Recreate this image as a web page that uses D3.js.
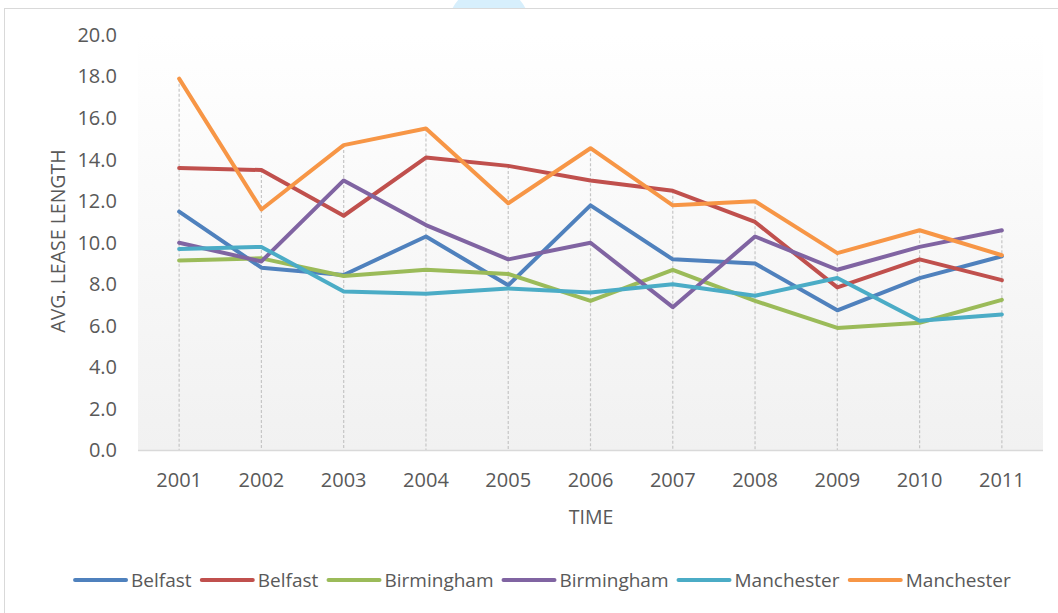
<!DOCTYPE html>
<html>
<head>
<meta charset="utf-8">
<script src="https://cdn.jsdelivr.net/npm/d3@7/dist/d3.min.js"></script>
<style>
  html, body { margin: 0; padding: 0; background: #ffffff; }
  svg { display: block; }
  text { font-family: "Open Sans", "Liberation Sans", sans-serif; fill: #595959; }
</style>
</head>
<body>
<svg id="chart" width="1058" height="613"></svg>
<script>
// ---- Data ----
const years = ["2001","2002","2003","2004","2005","2006","2007","2008","2009","2010","2011"];
const seriesNames = ["Belfast","Belfast","Birmingham","Birmingham","Manchester","Manchester"];
const seriesColors = ["#4F81BD","#C0504D","#9BBB59","#8064A2","#4BACC6","#F79646"];
const belfastA    = [11.5, 8.8, 8.45, 10.3, 7.95, 11.8, 9.2, 9.0, 6.75, 8.3, 9.35];
const belfastB    = [13.6, 13.5, 11.3, 14.1, 13.7, 13.0, 12.5, 11.0, 7.85, 9.2, 8.2];
const birminghamA = [9.15, 9.25, 8.4, 8.7, 8.5, 7.2, 8.7, 7.2, 5.9, 6.15, 7.25];
const birminghamB = [10.0, 9.1, 13.0, 10.85, 9.2, 10.0, 6.9, 10.3, 8.7, 9.8, 10.6];
const manchesterA = [9.7, 9.8, 7.65, 7.55, 7.8, 7.6, 8.0, 7.45, 8.3, 6.25, 6.55];
const manchesterB = [17.9, 11.6, 14.7, 15.5, 11.9, 14.55, 11.8, 12.0, 9.5, 10.6, 9.4];
const yTicks = [0, 2, 4, 6, 8, 10, 12, 14, 16, 18, 20];
const yTitle = "AVG. LEASE LENGTH";
const xTitle = "TIME";

const seriesValues = [belfastA, belfastB, birminghamA, birminghamB, manchesterA, manchesterB];
const series = seriesValues.map((vals, i) => ({
  name: seriesNames[i], color: seriesColors[i],
  points: vals.map((v, j) => ({ year: years[j], value: v }))
}));

// ---- Layout ----
const svg = d3.select("#chart");
const plot = { left: 138, right: 1043, top: 35, bottom: 450.5 };

// watermark fragment at top
const defs = svg.append("defs");
defs.append("clipPath").attr("id", "topclip")
  .append("rect").attr("x", 0).attr("y", 0).attr("width", 1058).attr("height", 8);
const wm = svg.append("g").attr("clip-path", "url(#topclip)");
wm.append("circle").attr("cx", 489).attr("cy", 27).attr("r", 41).attr("fill", "#d7effc");
wm.append("circle").attr("cx", 497).attr("cy", 21).attr("r", 13).attr("fill", "#eef8fe");

// outer chart frame
svg.append("rect").attr("x", 4.5).attr("y", 8.5).attr("width", 1100).attr("height", 700)
  .attr("fill", "#ffffff").attr("stroke", "#d9d9d9").attr("stroke-width", 1);

// plot area gradient
const grad = defs.append("linearGradient").attr("id", "plotgrad")
  .attr("x1", 0).attr("y1", 0).attr("x2", 0).attr("y2", 1);
grad.append("stop").attr("offset", "0%").attr("stop-color", "#ffffff");
grad.append("stop").attr("offset", "100%").attr("stop-color", "#f1f1f1");
svg.append("rect").attr("x", plot.left).attr("y", plot.top)
  .attr("width", plot.right - plot.left).attr("height", plot.bottom - plot.top)
  .attr("fill", "url(#plotgrad)");

// ---- Scales ----
const x = d3.scaleBand().domain(years).range([plot.left, plot.right]).padding(0);
const y = d3.scaleLinear().domain([0, 20]).range([plot.bottom, plot.top]);
const cx = d => x(d) + x.bandwidth() / 2;

// drop lines (from highest point down to axis)
const maxByYear = years.map((yr, j) => d3.max(seriesValues, s => s[j]));
svg.append("g").selectAll("line").data(years).join("line")
  .attr("x1", d => cx(d)).attr("x2", d => cx(d))
  .attr("y1", (d, j) => y(maxByYear[j])).attr("y2", plot.bottom)
  .attr("stroke", "#c6c6c6").attr("stroke-width", 1.2).attr("stroke-dasharray", "3,2");

// x axis
const xAxis = svg.append("g").attr("transform", `translate(0,${plot.bottom})`)
  .call(d3.axisBottom(x).tickSize(0).tickPadding(22));
xAxis.select(".domain").attr("stroke", "#d9d9d9").attr("stroke-width", 1.5)
  .attr("d", `M${plot.left},0H${plot.right}`);
xAxis.selectAll("text").attr("font-size", 20).attr("fill", "#595959")
  .style("font-family", '"Open Sans", sans-serif').attr("dy", "0.35em").attr("y", 29);

// y axis
const yAxis = svg.append("g").attr("transform", `translate(${plot.left},0)`)
  .call(d3.axisLeft(y).tickValues(yTicks).tickFormat(d3.format(".1f")).tickSize(0).tickPadding(21));
yAxis.select(".domain").remove();
yAxis.selectAll("text").attr("font-size", 20).attr("fill", "#595959")
  .style("font-family", '"Open Sans", sans-serif');

// axis titles
svg.append("text").attr("transform", "translate(57,241) rotate(-90)")
  .attr("text-anchor", "middle").attr("dominant-baseline", "central")
  .attr("font-size", 19.5).text(yTitle);
svg.append("text").attr("x", 591).attr("y", 516)
  .attr("text-anchor", "middle").attr("dominant-baseline", "central")
  .attr("font-size", 19.5).text(xTitle);

// lines
const line = d3.line().x(d => cx(d.year)).y(d => y(d.value));
svg.append("g").selectAll("path").data(series).join("path")
  .attr("d", d => line(d.points))
  .attr("fill", "none").attr("stroke", d => d.color)
  .attr("stroke-width", 4).attr("stroke-linejoin", "round").attr("stroke-linecap", "round");

// legend
const legend = svg.append("g");
const items = legend.selectAll("g").data(series).join("g");
items.append("line").attr("x1", 0).attr("x2", 51).attr("y1", 0).attr("y2", 0)
  .attr("stroke", d => d.color).attr("stroke-width", 4).attr("stroke-linecap", "round");
items.append("text").attr("x", 56).attr("y", 0).attr("dominant-baseline", "central")
  .attr("font-size", 19).text(d => d.name);
let widths = [];
items.each(function () { widths.push(this.getBBox().width); });
const gap = 10;
const total = d3.sum(widths) + gap * (widths.length - 1);
let pos = 543 - total / 2;
items.attr("transform", (d, i) => { const t = `translate(${pos},580)`; pos += widths[i] + gap; return t; });
</script>
</body>
</html>
